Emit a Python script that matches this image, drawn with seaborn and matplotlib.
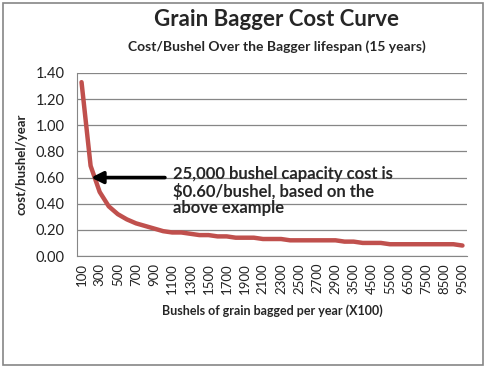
import pandas as pd
import matplotlib.pyplot as plt
import seaborn as sns
from matplotlib.patches import Rectangle

# Bushels bagged per year (x100) and cost per bushel per year
bushels = [100, 200, 300, 400, 500, 600, 700, 800, 900, 1000,
           1100, 1200, 1300, 1400, 1500, 1600, 1700, 1800, 1900, 2000,
           2100, 2200, 2300, 2400, 2500, 2600, 2700, 2800, 2900, 3000,
           3500, 4000, 4500, 5000, 5500, 6000, 6500, 7000, 7500, 8000,
           8500, 9000, 9500]
cost = [1.33, 0.69, 0.49, 0.38, 0.32, 0.28, 0.25, 0.23, 0.21, 0.19,
        0.18, 0.18, 0.17, 0.16, 0.16, 0.15, 0.15, 0.14, 0.14, 0.14,
        0.13, 0.13, 0.13, 0.12, 0.12, 0.12, 0.12, 0.12, 0.12, 0.11,
        0.11, 0.10, 0.10, 0.10, 0.09, 0.09, 0.09, 0.09, 0.09, 0.09,
        0.09, 0.09, 0.08]
y_ticks = [0.0, 0.2, 0.4, 0.6, 0.8, 1.0, 1.2, 1.4]

df = pd.DataFrame({'Bushels': [str(b) for b in bushels], 'Cost': cost})

sns.set_style('white')
plt.rcParams['font.family'] = ['Lato', 'DejaVu Sans']

fig = plt.figure(figsize=(4.89, 3.72), dpi=100)
ax = fig.add_axes([77 / 489, 1 - 256 / 372, 390 / 489, 183 / 372])

sns.lineplot(data=df, x='Bushels', y='Cost', color='#C0504D', linewidth=3.2,
             ax=ax, sort=False)

ax.set_xlim(-0.5, len(bushels) - 0.5)
ax.set_ylim(0, 1.4)
ax.set_yticks(y_ticks)
ax.set_yticklabels([f'{v:.2f}' for v in y_ticks], fontsize=10.5)
ax.set_xticks(range(0, len(bushels), 2))
ax.set_xticklabels([str(b) for b in bushels[::2]], rotation=90, fontsize=9.5)
ax.tick_params(axis='both', length=0, pad=5, colors='#222222')
ax.tick_params(axis='y', pad=9)
ax.grid(axis='y', color='#868686', linewidth=0.9)
ax.set_axisbelow(True)
for side in ['top', 'right']:
    ax.spines[side].set_visible(False)
ax.spines['left'].set_color('#868686')
ax.spines['bottom'].set_color('#868686')

ax.set_xlabel('Bushels of grain bagged per year (X100)', fontsize=9,
              fontweight='bold', labelpad=8)
ax.set_ylabel('cost/bushel/year', fontsize=9.5, fontweight='bold', labelpad=6)

# annotation with arrow
ax.annotate('', xy=(0.75, 0.6), xytext=(9.5, 0.6),
            arrowprops=dict(arrowstyle='-|>,head_length=0.7,head_width=0.35',
                        color='black', lw=2.6))
ax.text(10.1, 0.69, '25,000 bushel capacity cost is\n$0.60/bushel, based on the\nabove example',
        fontsize=12, fontweight='bold', va='top', ha='left', linespacing=1.05)

fig.text(277 / 489, 1 - 19 / 372, 'Grain Bagger Cost Curve', fontsize=16,
         fontweight='bold', ha='center', va='center')
fig.text(277 / 489, 1 - 47 / 372, 'Cost/Bushel Over the Bagger lifespan (15 years)',
         fontsize=10, fontweight='bold', ha='center', va='center')

fig.patches.append(Rectangle((3 / 489, 1 - 365 / 372), 480 / 489, 362 / 372,
                             transform=fig.transFigure, fill=False,
                             edgecolor='#868686', linewidth=1.2))

fig.savefig('out.png', dpi=100)
